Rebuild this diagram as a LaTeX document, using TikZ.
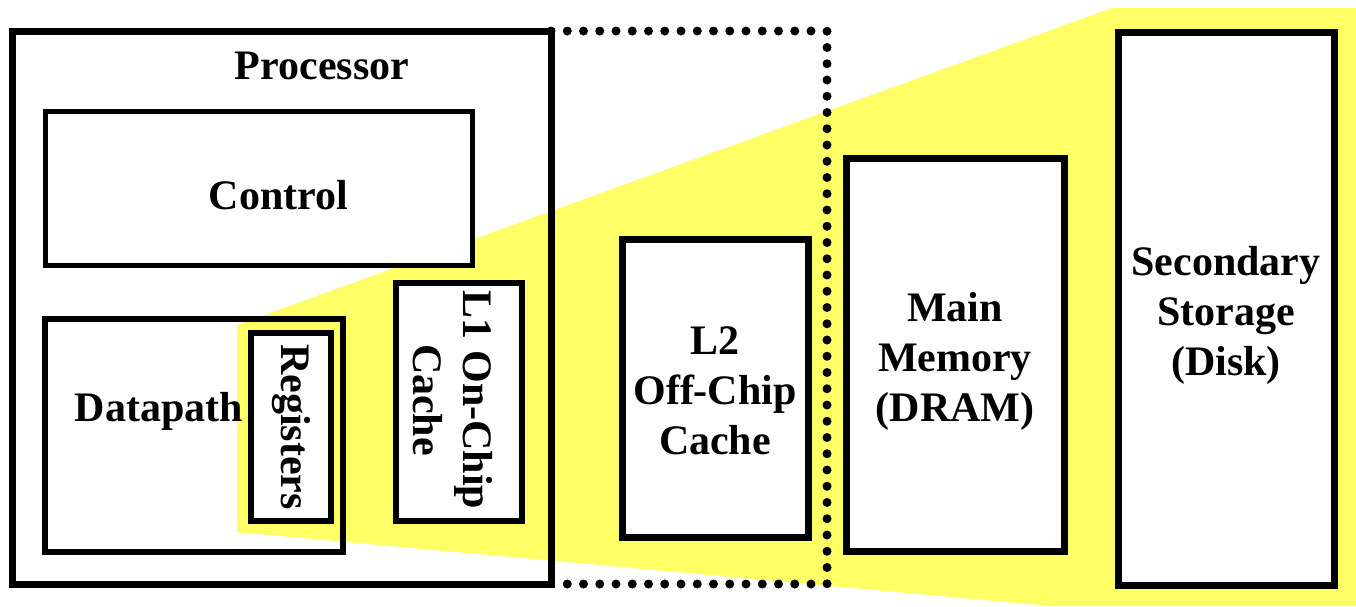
\documentclass[tikz,border=0pt]{standalone}
\usepackage{fontspec}
\setmainfont{Liberation Serif}
\definecolor{hiyellow}{RGB}{255,255,102}
\tikzset{
  membox/.style={draw, fill=white, line width=7pt, inner sep=0pt, outer sep=0pt, align=center},
  lbl/.style={font=\fontsize{42}{50}\selectfont\bfseries, align=center, inner sep=0pt},
}
\begin{document}
\begin{tikzpicture}[x=1pt, y=-1pt, lbl]
  \useasboundingbox (0,0) rectangle (1356,606);
  % Yellow wedge (behind everything)
  \fill[hiyellow] (237,325) -- (1112,8) -- (1356,8) -- (1356,606) -- (1050,606) -- (237,532) -- cycle;
  % Processor
  \node[membox, fill=none, minimum width=539, minimum height=553] (proc) at (281.5,307.5) {};
  \node (proctxt) at (322,66) {Processor};
  % Control
  \node[membox, line width=5pt, minimum width=427, minimum height=154] (ctrl) at (258.5,188) {};
  \node (ctrltxt) at (278.5,195) {Control};
  % Datapath
  \node[membox, fill=none, line width=5.5pt, minimum width=298, minimum height=233] (dpath) at (194,435.5) {};
  \node (dpathtxt) at (159,411) {Datapath};
  % Registers
  \node[membox, line width=6pt, rotate=-90, minimum width=188, minimum height=80] (regs) at (291,427) {Registers};
  % L1 On-Chip Cache
  \node[membox, line width=5.5pt, minimum width=126, minimum height=238] (lone) at (459,402) {};
  \node[rotate=-90] (lonetxt) at (453,400) {L1 On-Chip\\Cache};
  % L2 Off-Chip Cache
  \node[membox, minimum width=186, minimum height=298] (ltwo) at (715,388) {};
  \node (ltwotxt) at (715,391) {L2\\Off-Chip\\Cache};
  % Main Memory
  \node[membox, minimum width=218, minimum height=393] (mem) at (955,354.5) {};
  \node (memtxt) at (955,361) {Main\\Memory\\(DRAM)};
  % Secondary Storage
  \node[membox, minimum width=216, minimum height=553] (disk) at (1226,308.5) {};
  \node (disktxt) at (1226,315) {Secondary\\Storage\\(Disk)};
  % Dotted chip boundary
  \coordinate (dtop) at (827,31);
  \coordinate (dbot) at (827,584);
  \draw[line width=9pt, line cap=round, dash pattern=on 0pt off 16.25pt]
    (proc.north east) -- (dtop) -- (dbot) -- (proc.south east);
\end{tikzpicture}
\end{document}
